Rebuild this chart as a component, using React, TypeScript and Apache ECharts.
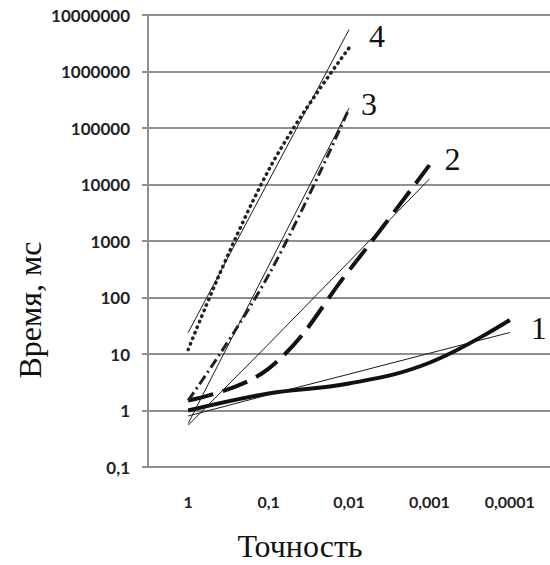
import React, { useEffect, useRef } from "react";
import * as echarts from "echarts";

const xLabels = ["1", "0,1", "0,01", "0,001", "0,0001"];
const yLabels = ["0,1", "1", "10", "100", "1000", "10000", "100000", "1000000", "10000000"];

// measured curves
const series1 = [1, 2, 3, 7, 40];
const series2 = [1.5, 5.5, 300, 22000];
const series3 = [1.5, 250, 220000];
const series4 = [12, 18000, 2600000];
// trend lines
const trend1 = [0.8, 1.9, 4.4, 10.3, 24];
const trend2 = [0.55, 15, 430, 12500];
const trend3 = [0.59, 363, 224000];
const trend4 = [24, 11500, 5500000];

const curveNames = ["1", "2", "3", "4"];

const serif = '"Liberation Serif", "Times New Roman", serif';

export default function App() {
  const ref = useRef<HTMLDivElement>(null);
  useEffect(() => {
    if (!ref.current) return;
    const chart = echarts.init(ref.current, undefined, { renderer: "svg" });
    const endLabel = (name: string, offset: number[]) => ({
      show: true,
      formatter: () => name,
      fontFamily: serif,
      fontSize: 32,
      color: "#111",
      offset,
      align: "center",
      verticalAlign: "middle",
    });
    const thin = (data: number[]) => ({
      type: "line",
      data,
      symbol: "none",
      silent: true,
      lineStyle: { color: "#1a1a1a", width: 1 },
      z: 5,
    });
    chart.setOption({
      animation: false,
      backgroundColor: "#fff",
      grid: { left: 148, right: 0, top: 15, bottom: 98 },
      xAxis: {
        type: "category",
        data: xLabels,
        boundaryGap: true,
        axisLine: { show: true, lineStyle: { color: "#8f8f8f", width: 2 } },
        axisTick: { show: false },
        axisLabel: {
          margin: 26,
          fontFamily: "Lato",
          fontWeight: "bold",
          fontSize: 16,
          color: "#222",
        },
      },
      yAxis: {
        type: "log",
        logBase: 10,
        min: 0.1,
        max: 10000000,
        interval: 1,
        axisLine: { show: true, lineStyle: { color: "#8f8f8f", width: 2 } },
        axisTick: { show: true, length: 6, lineStyle: { color: "#8f8f8f", width: 2 } },
        splitLine: { show: true, lineStyle: { color: "#8f8f8f", width: 2 } },
        axisLabel: {
          margin: 18,
          fontFamily: "Lato",
          fontWeight: "bold",
          fontSize: 17,
          color: "#222",
          formatter: (v: number) => {
            const e = Math.round(Math.log10(v));
            return yLabels[e + 1] ?? "";
          },
        },
      },
      series: [
        {
          type: "line",
          data: series1,
          symbol: "none",
          smooth: 0.4,
          lineStyle: { color: "#111", width: 4 },
          endLabel: endLabel(curveNames[0], [21, 8]),
          z: 3,
        },
        {
          type: "line",
          data: series2,
          symbol: "none",
          smooth: 0.4,
          lineStyle: { color: "#111", width: 4, type: [26, 10] },
          endLabel: endLabel(curveNames[1], [15, -6]),
          z: 3,
        },
        {
          type: "line",
          data: series3,
          symbol: "none",
          smooth: 0.4,
          lineStyle: { color: "#222", width: 3, type: [10, 4, 2, 4] },
          endLabel: endLabel(curveNames[2], [12, -5]),
          z: 3,
        },
        {
          type: "line",
          data: series4,
          symbol: "none",
          smooth: 0.4,
          lineStyle: { color: "#222", width: 3.5, type: [0.5, 5.5], cap: "round" },
          endLabel: endLabel(curveNames[3], [20, -12]),
          z: 3,
        },
        thin(trend1),
        thin(trend2),
        thin(trend3),
        thin(trend4),
      ],
      graphic: [
        {
          type: "text",
          x: 30,
          y: 310,
          rotation: Math.PI / 2,
          style: {
            text: "Время, мс",
            font: `32px ${serif}`,
            fill: "#111",
            textAlign: "center",
            textVerticalAlign: "middle",
          },
        },
        {
          type: "text",
          x: 300,
          y: 546,
          style: {
            text: "Точность",
            font: `32px ${serif}`,
            fill: "#111",
            textAlign: "center",
            textVerticalAlign: "middle",
          },
        },
      ],
    });
    return () => chart.dispose();
  }, []);
  return (
    <div
      ref={ref}
      style={{ position: "absolute", left: 0, top: 0, width: 550, height: 565 }}
    />
  );
}
